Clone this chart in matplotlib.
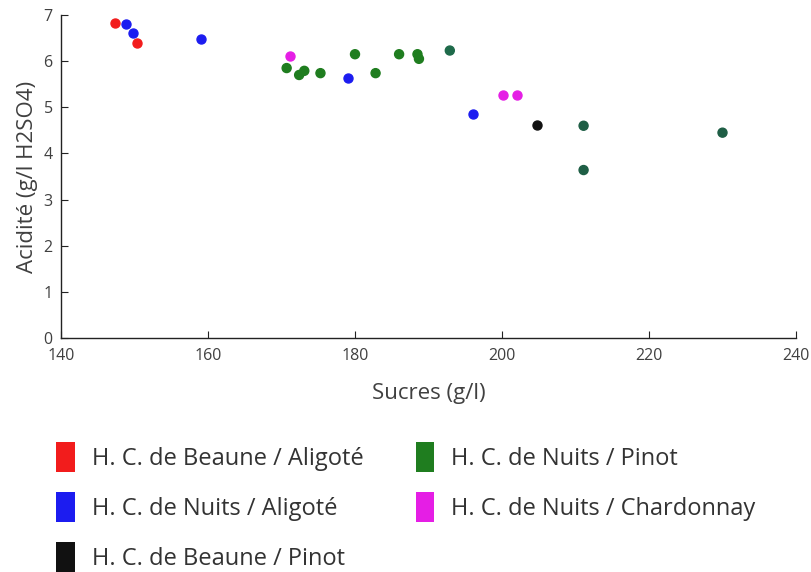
import matplotlib
matplotlib.use("Agg")
import matplotlib.pyplot as plt
from matplotlib.patches import Patch

plt.rcParams['font.family'] = ['Open Sans', 'DejaVu Sans']

# données
beaune_aligote_x = [147.3, 150.4]
beaune_aligote_y = [6.83, 6.39]

nuits_aligote_x = [148.9, 149.8, 159.1, 179.0, 196.0]
nuits_aligote_y = [6.81, 6.62, 6.48, 5.63, 4.85]

beaune_pinot_x = [204.8]
beaune_pinot_y = [4.62]

nuits_pinot_x = [170.7, 172.4, 173.1, 175.3, 180.0, 182.8, 186.0, 188.5, 188.7, 192.9, 211.1, 211.1, 230.0]
nuits_pinot_y = [5.85, 5.70, 5.79, 5.74, 6.15, 5.74, 6.15, 6.15, 6.05, 6.23, 4.60, 3.64, 4.45]

nuits_chardonnay_x = [171.2, 200.2, 202.1]
nuits_chardonnay_y = [6.12, 5.26, 5.26]

labels = ["H. C. de Beaune / Aligoté", "H. C. de Nuits / Aligoté", "H. C. de Beaune / Pinot",
          "H. C. de Nuits / Pinot", "H. C. de Nuits / Chardonnay"]
colors = ["#f21c1c", "#1c1cf0", "#111111", "#1f7d1f", "#e51ee5"]

# les derniers points verts sont plus foncés
pinot_cols = ["#1f7d1f"] * 9 + ["#1e6a4a", "#1e5e45", "#1e5e45", "#1e5e45"]

fig = plt.figure(figsize=(8.11, 5.72), dpi=100)
ax = fig.add_axes([61/811, 1-338/572, 735/811, 323/572])

s = 42
ax.scatter(beaune_aligote_x, beaune_aligote_y, s=s, color=colors[0], zorder=3)
ax.scatter(nuits_aligote_x, nuits_aligote_y, s=s, color=colors[1], zorder=3)
ax.scatter(beaune_pinot_x, beaune_pinot_y, s=s, color=colors[2], zorder=3)
ax.scatter(nuits_pinot_x, nuits_pinot_y, s=s, color=pinot_cols, zorder=3)
ax.scatter(nuits_chardonnay_x, nuits_chardonnay_y, s=s, color=colors[4], zorder=3)

ax.set_xlim(140, 240)
ax.set_ylim(0, 7)
ax.set_xticks(range(140, 241, 20))
ax.set_yticks(range(0, 8))
ax.spines['top'].set_visible(False)
ax.spines['right'].set_visible(False)
for sp in ['left', 'bottom']:
    ax.spines[sp].set_color('#222222')
    ax.spines[sp].set_linewidth(1.0)
ax.tick_params(direction='in', length=5, color='#222222', labelsize=11.5, labelcolor='#404040')
ax.tick_params(axis='x', pad=7)
ax.tick_params(axis='y', pad=6)

ax.set_xlabel("Sucres (g/l)", fontsize=16, color='#404040', labelpad=14)
ax.set_ylabel("Acidité (g/l H2SO4)", fontsize=16, color='#404040', labelpad=4)

handles = [Patch(facecolor=c, edgecolor='none') for c in colors]
fig.legend(handles, labels, loc='upper left', bbox_to_anchor=(56/811, 1-442/572),
           ncol=2, frameon=False, fontsize=17, handlelength=0.8, handleheight=1.57,
           handletextpad=0.72, labelspacing=0.85, columnspacing=2.2, borderpad=0,
           borderaxespad=0, labelcolor='#333333')

fig.savefig("out.png", dpi=100)
